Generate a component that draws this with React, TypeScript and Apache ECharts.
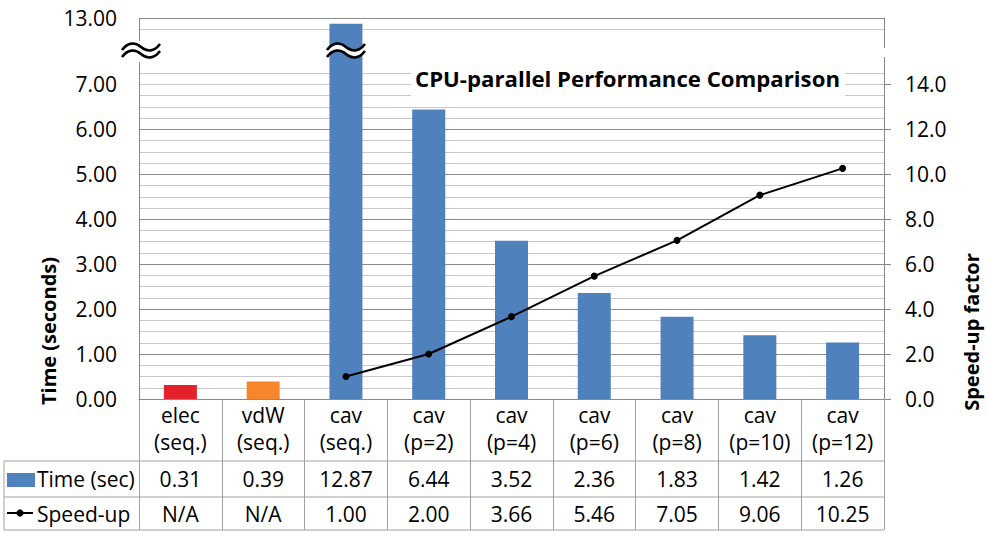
import React, { useEffect, useRef } from 'react';
import * as echarts from 'echarts';

const categories = ['elec\n(seq.)', 'vdW\n(seq.)', 'cav\n(seq.)', 'cav\n(p=2)', 'cav\n(p=4)', 'cav\n(p=6)', 'cav\n(p=8)', 'cav\n(p=10)', 'cav\n(p=12)'];
const timeValues = [0.31, 0.39, 12.87, 6.44, 3.52, 2.36, 1.83, 1.42, 1.26];
const speedupValues: (number | null)[] = [null, null, 1.0, 2.0, 3.66, 5.46, 7.05, 9.06, 10.25];
const barColors = ['#E5222B', '#F6852B', '#4F81BD', '#4F81BD', '#4F81BD', '#4F81BD', '#4F81BD', '#4F81BD', '#4F81BD'];
const leftTickValues = [0, 1, 2, 3, 4, 5, 6, 7, 13];
const rightTickValues = [0, 2, 4, 6, 8, 10, 12, 14];
const rowNames = ['Time (sec)', 'Speed-up'];
const titleText = 'CPU-parallel Performance Comparison';
const leftAxisName = 'Time (seconds)';
const rightAxisName = 'Speed-up factor';

const WAVE_TOP = 'M0,7 C6,-1 13,-1 19,4 C25,9 32,9 38,1';
const WAVE_BOTTOM = 'M0,14 C6,6 13,6 19,11 C25,16 32,16 38,8';
const WAVE_FILL = 'M0,7 C6,-1 13,-1 19,4 C25,9 32,9 38,1 L38,8 C32,16 25,16 19,11 C13,6 6,6 0,14 Z';

let registered = false;
function registerShapes() {
  if (registered) return;
  registered = true;
  echarts.graphic.registerShape('waveTop', echarts.graphic.extendPath(WAVE_TOP, {}) as any);
  echarts.graphic.registerShape('waveBottom', echarts.graphic.extendPath(WAVE_BOTTOM, {}) as any);
  echarts.graphic.registerShape('waveFill', echarts.graphic.extendPath(WAVE_FILL, {}) as any);
}

const FONT = 'Open Sans';

export default function App() {
  const ref = useRef<HTMLDivElement>(null);
  useEffect(() => {
    document.body.style.margin = '0';
    registerShapes();
    const chart = echarts.init(ref.current!, undefined, { renderer: 'svg' });

    const gridLeft = 139;
    const gridRight = 884;
    const gridTop = 18;
    const gridBottom = 399;
    const colW = (gridRight - gridLeft) / categories.length;
    const tableLine = '#a0a0a0';
    const breakY = 43;

    const breakSymbol = (x: number, y: number) => ([
      { type: 'waveFill', x, y, z: 20, style: { fill: '#fff', stroke: null } },
      { type: 'waveTop', x, y, z: 21, style: { fill: null, stroke: '#000', lineWidth: 2.6 } },
      { type: 'waveBottom', x, y, z: 21, style: { fill: null, stroke: '#000', lineWidth: 2.6 } },
    ]);

    const graphics: any[] = [];
    [461, 497, 530].forEach((y) => {
      graphics.push({ type: 'line', z: 5, shape: { x1: 4, y1: y, x2: gridRight, y2: y }, style: { stroke: tableLine, lineWidth: 1 } });
    });
    graphics.push({ type: 'line', z: 5, shape: { x1: 4, y1: 461, x2: 4, y2: 530 }, style: { stroke: tableLine, lineWidth: 1 } });
    graphics.push({ type: 'rect', z: 5, shape: { x: 7, y: 473, width: 28, height: 14 }, style: { fill: '#4F81BD' } });
    graphics.push({ type: 'line', z: 5, shape: { x1: 7, y1: 513, x2: 33, y2: 513 }, style: { stroke: '#000', lineWidth: 2 } });
    graphics.push({ type: 'circle', z: 6, shape: { cx: 20, cy: 513, r: 3.6 }, style: { fill: '#000' } });
    graphics.push({ type: 'text', z: 5, x: 37, y: 479, style: { text: rowNames[0], font: `21px "${FONT}"`, fill: '#000', verticalAlign: 'middle', align: 'left' } });
    graphics.push({ type: 'text', z: 5, x: 37, y: 514, style: { text: rowNames[1], font: `21px "${FONT}"`, fill: '#000', verticalAlign: 'middle', align: 'left' } });
    timeValues.forEach((v, i) => {
      graphics.push({ type: 'text', z: 5, x: gridLeft + (i + 0.5) * colW, y: 479, style: { text: v.toFixed(2), font: `21px "${FONT}"`, fill: '#000', align: 'center', verticalAlign: 'middle' } });
    });
    speedupValues.forEach((v, i) => {
      graphics.push({ type: 'text', z: 5, x: gridLeft + (i + 0.5) * colW, y: 514, style: { text: v == null ? 'N/A' : v.toFixed(2), font: `21px "${FONT}"`, fill: '#000', align: 'center', verticalAlign: 'middle' } });
    });
    graphics.push({ type: 'rect', z: 10, shape: { x: 411, y: 56, width: 434, height: 45 }, style: { fill: '#fff' } });
    graphics.push({ type: 'text', z: 11, x: 627.5, y: 78, style: { text: titleText, font: `bold 22.2px "${FONT}"`, fill: '#000', align: 'center', verticalAlign: 'middle' } });
    graphics.push({ type: 'text', z: 5, x: 48, y: 331, rotation: Math.PI / 2, style: { text: leftAxisName, font: `bold 20px "${FONT}"`, fill: '#000', align: 'center', verticalAlign: 'middle' } });
    graphics.push({ type: 'text', z: 5, x: 971, y: 332, rotation: Math.PI / 2, style: { text: rightAxisName, font: `bold 20px "${FONT}"`, fill: '#000', align: 'center', verticalAlign: 'middle' } });
    graphics.push({ type: 'rect', z: 10, shape: { x: 879, y: 48, width: 12, height: 9 }, style: { fill: '#fff' } });
    graphics.push(...breakSymbol(122, breakY));
    graphics.push(...breakSymbol(gridLeft + 2.5 * colW - 19, breakY));

    const breaks = [{ start: 7.5, end: 12.5, gap: 0.478 }];

    chart.setOption({
      animation: false,
      textStyle: { fontFamily: FONT },
      grid: { left: gridLeft, right: 986 - gridRight, top: gridTop, bottom: 536 - gridBottom, containLabel: false, outerBoundsMode: 'none' },
      xAxis: {
        type: 'category',
        data: categories,
        axisLine: { show: true, lineStyle: { color: '#868686', width: 1 } },
        axisTick: { show: true, interval: 0, length: 131, lineStyle: { color: tableLine } },
        axisLabel: { interval: 0, fontSize: 21, color: '#000', lineHeight: 27, margin: 2, fontFamily: FONT },
        splitLine: { show: false },
      },
      yAxis: [
        {
          type: 'value', min: 0, max: 13, interval: 1, position: 'left', z: 1,
          breaks, breakArea: { show: false },
          axisLine: { show: true, lineStyle: { color: '#868686' } },
          axisTick: { show: false },
          axisLabel: { customValues: leftTickValues, formatter: (v: number) => v.toFixed(2), fontSize: 21, color: '#000', margin: 22, fontFamily: FONT },
          splitLine: { show: true, lineStyle: { color: '#8a8a8a', width: 1 } },
        },
        {
          type: 'value', min: 0, max: 16.933, position: 'right',
          axisLine: { show: true, lineStyle: { color: '#868686' } },
          axisTick: { show: true, customValues: rightTickValues, length: 7, lineStyle: { color: '#868686' } },
          axisLabel: { customValues: rightTickValues, formatter: (v: number) => v.toFixed(1), fontSize: 21, color: '#000', margin: 21, fontFamily: FONT },
          splitLine: { show: false },
        },
        {
          type: 'value', min: 0, max: 13, interval: 0.25, position: 'left', z: 0,
          breaks, breakArea: { show: false },
          axisLine: { show: false }, axisTick: { show: false }, axisLabel: { show: false },
          splitLine: { show: true, lineStyle: { color: '#c8c8c8', width: 1 } },
        },
      ],
      series: [
        {
          type: 'bar', yAxisIndex: 0, barWidth: 33,
          data: timeValues.map((v, i) => ({ value: v, itemStyle: { color: barColors[i] } })),
        },
        {
          type: 'line', yAxisIndex: 1, data: speedupValues, symbol: 'circle', symbolSize: 7,
          itemStyle: { color: '#000' }, lineStyle: { color: '#000', width: 2 }, connectNulls: false, z: 4,
        },
      ],
      graphic: graphics,
    });
    return () => chart.dispose();
  }, []);
  return <div ref={ref} style={{ width: 986, height: 536 }} />;
}
